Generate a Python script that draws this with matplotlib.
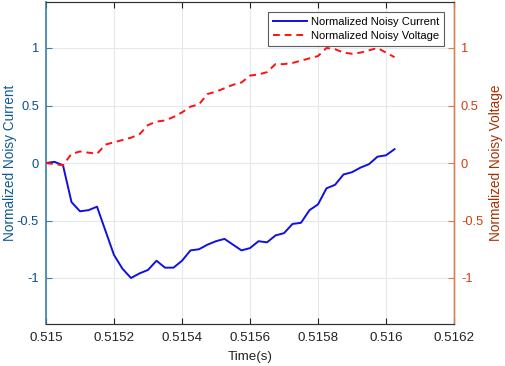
import numpy as np
import matplotlib
matplotlib.use("Agg")
import matplotlib.pyplot as plt

plt.rcParams['font.family'] = ['Liberation Sans', 'DejaVu Sans']

t0 = 0.515
dt = 25e-6
current = [0.0, 0.01, -0.02, -0.34, -0.42, -0.41, -0.38, -0.59, -0.80, -0.92,
           -1.0, -0.96, -0.93, -0.85, -0.91, -0.91, -0.85, -0.76, -0.75, -0.71,
           -0.68, -0.66, -0.71, -0.76, -0.74, -0.68, -0.69, -0.63, -0.61, -0.53,
           -0.52, -0.41, -0.36, -0.22, -0.19, -0.10, -0.08, -0.04, -0.01, 0.055,
           0.067, 0.12]
voltage = [0.0, -0.01, -0.02, 0.08, 0.10, 0.09, 0.08, 0.16, 0.18, 0.20,
           0.22, 0.25, 0.33, 0.36, 0.37, 0.40, 0.44, 0.49, 0.51, 0.60,
           0.62, 0.65, 0.68, 0.70, 0.76, 0.77, 0.79, 0.86, 0.86, 0.87,
           0.89, 0.91, 0.93, 1.0, 0.99, 0.96, 0.95, 0.96, 0.98, 1.0,
           0.96, 0.92]
time = t0 + dt * np.arange(len(current))

xticks = [0.515, 0.5152, 0.5154, 0.5156, 0.5158, 0.516, 0.5162]
xticklabels = ['0.515', '0.5152', '0.5154', '0.5156', '0.5158', '0.516', '0.5162']
yticks = [-1, -0.5, 0, 0.5, 1]
yticklabels = ['-1', '-0.5', '0', '0.5', '1']

left_tick_c = '#0b4f8a'
left_label_c = '#0d5a94'
left_spine_c = '#3a7fa8'
right_tick_c = '#cc4010'
right_label_c = '#a83000'
right_spine_c = '#e07a4a'

fig = plt.figure(figsize=(5.05, 3.66), dpi=100)
ax = fig.add_axes([46/505, 1-324/366, (454-46)/505, (324-2)/366])
ax2 = ax.twinx()

l1, = ax.plot(time, current, color='#1010e0', lw=1.4, label='Normalized Noisy Current')
l2, = ax2.plot(time, voltage, color='#ff1010', lw=1.4, ls=(0, (3.5, 2.5)), label='Normalized Noisy Voltage')

for a in (ax, ax2):
    a.set_xlim(0.515, 0.5162)
    a.set_ylim(-1.4, 1.4)
    a.set_yticks(yticks)
    a.set_yticklabels(yticklabels)

ax.set_xticks(xticks)
ax.set_xticklabels(xticklabels)
ax.grid(True, color='#e2eaf0', lw=0.8)
ax.set_axisbelow(True)

ax.tick_params(axis='x', direction='in', top=True, length=4, labelsize=9.6, colors='#222222', pad=6)
ax.tick_params(axis='y', direction='in', length=4, labelsize=9.3, colors=left_spine_c, labelcolor=left_tick_c, pad=5)
ax2.tick_params(axis='y', direction='in', length=4, labelsize=9.3, colors=right_spine_c, labelcolor=right_tick_c, pad=5)

ax.spines['left'].set_color(left_spine_c)
ax.spines['left'].set_linewidth(1.2)
ax2.spines['right'].set_color(right_spine_c)
ax2.spines['right'].set_linewidth(1.0)
ax2.spines['left'].set_visible(False)
for s in ('top', 'bottom'):
    ax.spines[s].set_color('#333333')
    ax2.spines[s].set_color('#333333')

ax.set_xlabel('Time(s)', fontsize=9.6, color='#222222')
ax.set_ylabel('Normalized Noisy Current', fontsize=9.8, color=left_label_c)
ax2.set_ylabel('Normalized Noisy Voltage', fontsize=9.8, color=right_label_c)
ax.xaxis.set_label_coords((250-46)/408, (324-357)/322)
ax.xaxis.label.set_va('center')
ax.yaxis.set_label_coords((10-46)/408, 0.5)
ax.yaxis.label.set_va('center')
ax2.yaxis.set_label_coords((496-46)/408, 0.5)
ax2.yaxis.label.set_va('center')

leg = ax2.legend(handles=[l1, l2], loc='upper right', bbox_to_anchor=((444-46)/408, (324-12)/322),
                 fontsize=8.0, frameon=True, fancybox=False, borderpad=0.45,
                 handlelength=3.1, handletextpad=0.3, labelspacing=0.35, borderaxespad=0.0)
leg.get_frame().set_edgecolor('#333333')
leg.get_frame().set_linewidth(0.8)

fig.savefig('out.png', dpi=100)
